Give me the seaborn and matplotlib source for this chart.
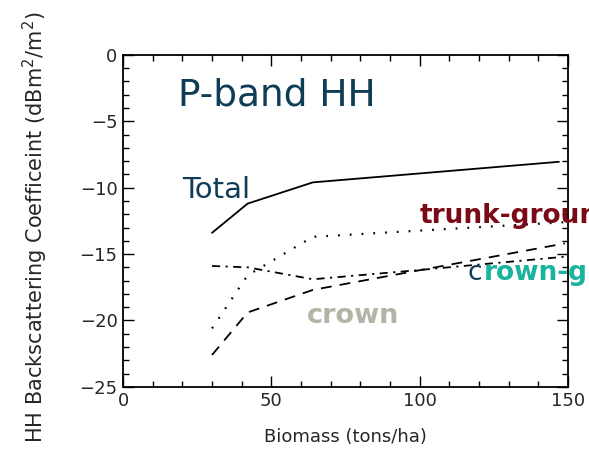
import pandas as pd
import matplotlib.pyplot as plt
import seaborn as sns
from matplotlib.ticker import MultipleLocator

# biomass values (tons/ha) where the curves have vertices
biomass = [30, 42, 64, 147]
total = [-13.4, -11.2, -9.6, -8.05]

trunk_x = [30, 42, 64, 149]
trunk_ground = [-20.6, -16.6, -13.7, -12.6]

crown_x = [30, 42, 64, 149]
crown = [-22.6, -19.4, -17.7, -14.2]

cg_x = [30, 42, 64, 100, 149]
crown_ground = [-15.9, -16.0, -16.9, -16.2, -15.2]

sns.set_style("ticks")
plt.rcParams['font.family'] = ['DejaVu Sans']

fig = plt.figure(figsize=(5.89, 4.54), dpi=100)
ax = fig.add_axes([0.209, 0.148, 0.755, 0.731])

sns.lineplot(x=biomass, y=total, ax=ax, color='black', lw=1.3)
sns.lineplot(x=trunk_x, y=trunk_ground, ax=ax, color='black', lw=1.6, linestyle=(0, (0.8, 4.5)))
sns.lineplot(x=crown_x, y=crown, ax=ax, color='black', lw=1.3, linestyle=(0, (6, 4.5)))
sns.lineplot(x=cg_x, y=crown_ground, ax=ax, color='black', lw=1.3, linestyle=(0, (4.5, 3, 1.2, 3)))

ax.set_xlim(0, 150)
ax.set_ylim(-25, 0)
ax.xaxis.set_major_locator(MultipleLocator(50))
ax.xaxis.set_minor_locator(MultipleLocator(10))
ax.yaxis.set_major_locator(MultipleLocator(5))
ax.yaxis.set_minor_locator(MultipleLocator(1))
ax.tick_params(which='both', direction='in', top=True, right=True, color='black')
ax.tick_params(which='major', length=8, width=1, labelsize=13, pad=4)
ax.tick_params(which='minor', length=4, width=1)
for s in ax.spines.values():
    s.set_linewidth(1.3)
    s.set_color('black')

ax.set_xlabel('Biomass (tons/ha)', fontsize=13, labelpad=13)
ax.set_ylabel('HH Backscattering Coefficeint (dBm$^2$/m$^2$)', fontsize=15)
ax.yaxis.set_label_coords(-0.164, 0.481)

dark = '#0e3d55'
ax.text(18.5, -3.8, 'P-band HH', color=dark, fontsize=27)
ax.text(19.9, -10.8, 'Total', color=dark, fontsize=21)
ax.text(100, -12.66, 'trunk-ground', color='#7a0a17', fontsize=19, fontweight='bold')
ax.text(116.3, -16.95, 'c', color=dark, fontsize=19)
ax.text(121.5, -16.95, 'rown-ground', color='#19b39e', fontsize=19, fontweight='bold')
ax.text(62, -20.2, 'crown', color='#b1b5a6', fontsize=19.5, fontweight='bold')

fig.savefig('out.png', dpi=100)
